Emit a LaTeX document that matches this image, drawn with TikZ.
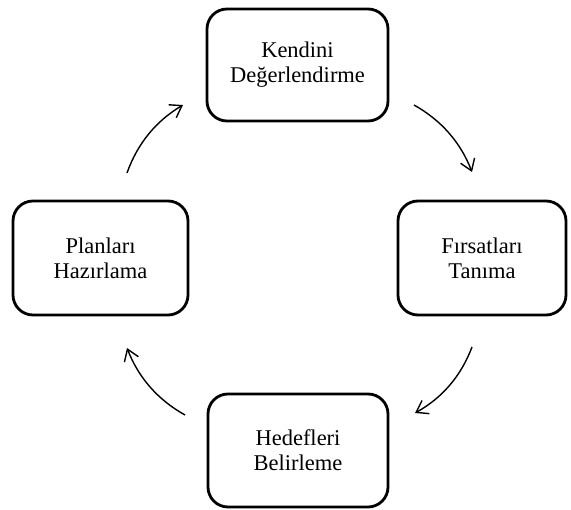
\documentclass[tikz,border=0pt]{standalone}
\usepackage{fontspec}
\setmainfont{Liberation Serif}
\usetikzlibrary{arrows.meta}
\begin{document}
\begin{tikzpicture}[x=1pt,y=-1pt,
  stagebox/.style={draw=black, line width=2.8pt, rounded corners=20pt, fill=white,
    align=center, font=\fontsize{22.5}{25}\selectfont, inner sep=0pt},
  cyclearrow/.style={line width=1.4pt, -{Straight Barb[length=11pt,width=15pt,line width=1.4pt]}}]
\useasboundingbox (0,0) rectangle (571,510);
\node[stagebox, minimum width=181pt, minimum height=112pt] (top) at (297.5,65) {Kendini\\Değerlendirme};
\node[stagebox, minimum width=175pt, minimum height=114pt] (left) at (100.5,258) {Planları\\Hazırlama};
\node[stagebox, minimum width=168pt, minimum height=114pt] (right) at (482,258) {Fırsatları\\Tanıma};
\node[stagebox, minimum width=180pt, minimum height=113pt] (bottom) at (298,450.5) {Hedefleri\\Belirleme};
\coordinate (a1s) at (127,173); \coordinate (a1e) at (183,105);
\coordinate (a2s) at (414,105); \coordinate (a2e) at (472,172);
\coordinate (a3s) at (472,347); \coordinate (a3e) at (415,413);
\coordinate (a4s) at (185,415); \coordinate (a4e) at (127,348);
\draw[cyclearrow] (a1s) .. controls (137.5,143.5) and (156.1,120.9) .. (a1e);
\draw[cyclearrow] (a2s) .. controls (441.4,120.3) and (460.7,142.7) .. (a2e);
\draw[cyclearrow] (a3s) .. controls (461.1,376) and (442.1,398) .. (a3e);
\draw[cyclearrow] (a4s) .. controls (157.6,399.7) and (138.3,377.3) .. (a4e);
\end{tikzpicture}
\end{document}
